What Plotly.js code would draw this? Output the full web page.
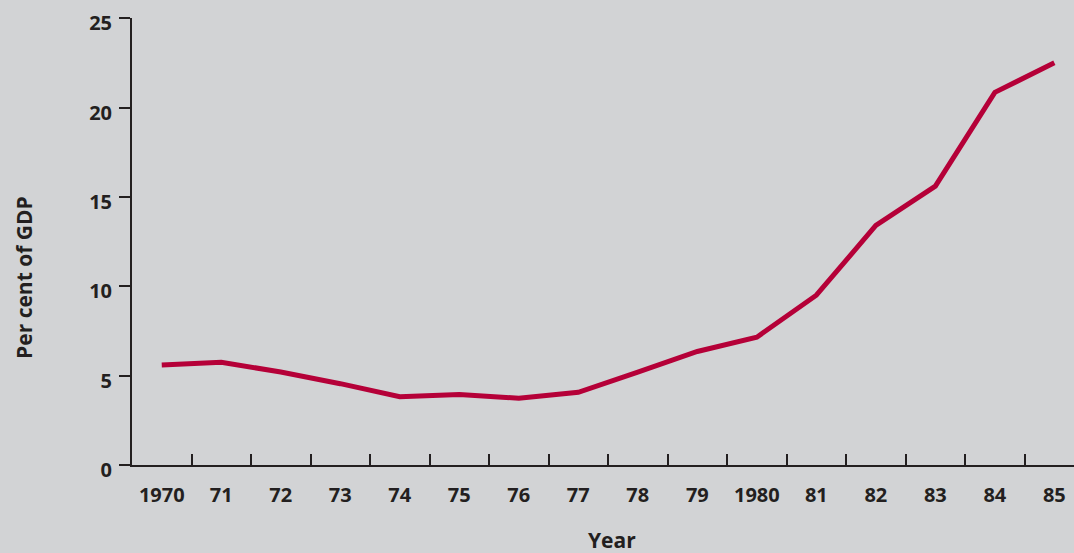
<!DOCTYPE html>
<html>
<head>
<meta charset="utf-8">
<script src="https://cdn.plot.ly/plotly-3.0.1.min.js"></script>
<style>html,body{margin:0;padding:0;background:#d2d3d5;}#chart{width:1074px;height:553px;}</style>
</head>
<body>
<div id="chart"></div>
<script>
const years = ["1970","71","72","73","74","75","76","77","78","79","1980","81","82","83","84","85"];
const perCentOfGDP = [5.6, 5.75, 5.2, 4.55, 3.82, 3.95, 3.73, 4.07, 5.2, 6.35, 7.15, 9.5, 13.4, 15.6, 20.85, 22.5];
const yTicks = [0, 5, 10, 15, 20, 25];
const xTitle = "Year";
const yTitle = "Per cent of GDP";

const axisColor = "#231f20";
const font = {family: "Open Sans, sans-serif", size: 20, color: axisColor, weight: "bold"};

const trace = {
  x: years,
  y: perCentOfGDP,
  type: "scatter",
  mode: "lines",
  line: {color: "rgb(181,0,56)", width: 5},
  hoverinfo: "x+y"
};

const layout = {
  width: 1074,
  height: 553,
  paper_bgcolor: "#d2d3d5",
  plot_bgcolor: "#d2d3d5",
  margin: {l: 132, r: 0, t: 18, b: 88},
  showlegend: false,
  font: font,
  xaxis: {
    type: "category",
    range: [-0.5, 15.33],
    tickson: "boundaries",
    ticks: "inside",
    ticklen: 11,
    tickwidth: 2,
    tickcolor: axisColor,
    showline: true,
    linecolor: axisColor,
    linewidth: 2,
    showgrid: false,
    zeroline: false,
    ticklabelstandoff: 11,
    tickfont: font,
    fixedrange: true
  },
  yaxis: {
    range: [0, 25.01],
    tickvals: yTicks,
    ticktext: yTicks.map(String),
    ticks: "outside",
    ticklen: 11,
    tickwidth: 2,
    tickcolor: axisColor,
    showline: true,
    linecolor: axisColor,
    linewidth: 2,
    showgrid: false,
    zeroline: false,
    ticklabelstandoff: 3,
    ticklabelshift: 5,
    tickfont: font,
    fixedrange: true
  },
  annotations: [
    {text: xTitle, xref: "paper", yref: "paper", x: 0.5096, y: -0.1685, xanchor: "center", yanchor: "middle", showarrow: false, font: {family: "Open Sans, sans-serif", size: 21, color: axisColor, weight: "bold"}},
    {text: yTitle, xref: "paper", yref: "paper", x: -0.1147, y: 0.4206, xanchor: "center", yanchor: "middle", textangle: -90, showarrow: false, font: {family: "Open Sans, sans-serif", size: 21, color: axisColor, weight: "bold"}}
  ]
};

Plotly.newPlot("chart", [trace], layout, {displayModeBar: false, staticPlot: true});
</script>
</body>
</html>
